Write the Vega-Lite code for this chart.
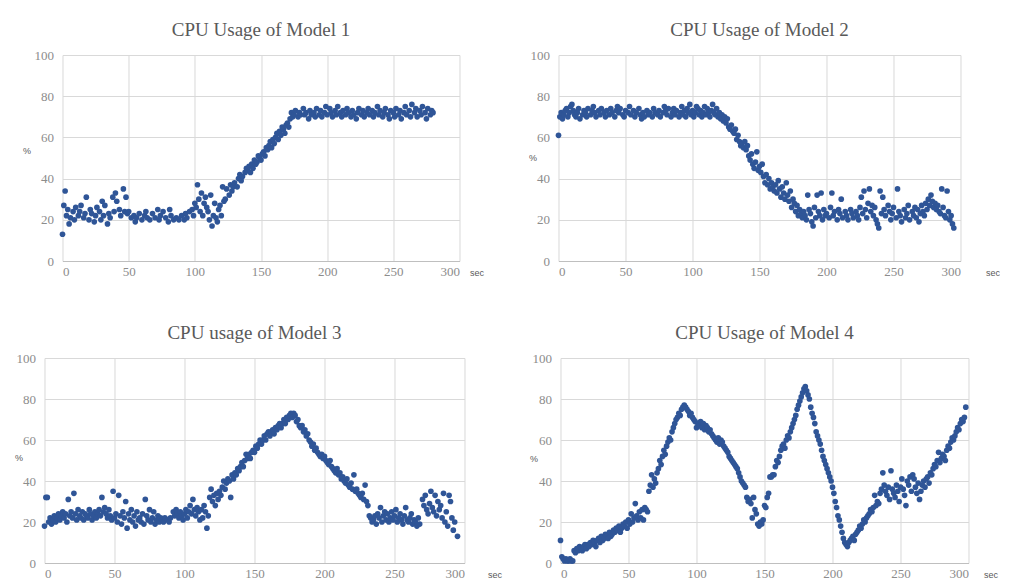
{
"$schema": "https://vega.github.io/schema/vega-lite/v6.json",
"background": "white",
"padding": {"left": 14, "top": 21, "right": 0, "bottom": 0},
"config": {
  "view": {"stroke": null},
  "font": "Liberation Serif",
  "title": {"font": "Liberation Serif", "fontSize": 19, "fontWeight": "normal", "color": "#595959", "offset": 9},
  "axis": {"gridColor": "#d9d9d9", "gridWidth": 1, "ticks": false, "labelFont": "Liberation Serif", "labelFontSize": 13, "labelColor": "#8c8c8c", "titleFont": "Liberation Sans", "titleFontSize": 9, "titleFontWeight": "normal", "titleColor": "#595959", "titleAngle": 0, "titleAlign": "center", "titleBaseline": "middle"},
  "axisX": {"domainColor": "#bfbfbf", "labelPadding": 4},
  "axisY": {"domain": false, "labelPadding": 9},
  "circle": {"size": 32, "color": "#2f5597", "opacity": 1}
},
"datasets": {
"m1": [{"t":0,"v":13},{"t":1,"v":27},{"t":2,"v":34},{"t":3,"v":22},{"t":4,"v":25},{"t":5,"v":18},{"t":6,"v":21},{"t":8,"v":24},{"t":9,"v":20},{"t":10,"v":26},{"t":12,"v":22},{"t":13,"v":24},{"t":14,"v":27},{"t":16,"v":21},{"t":17,"v":23},{"t":18,"v":31},{"t":20,"v":20},{"t":21,"v":25},{"t":22,"v":23},{"t":24,"v":19},{"t":25,"v":22},{"t":26,"v":26},{"t":28,"v":24},{"t":29,"v":20},{"t":30,"v":29},{"t":31,"v":22},{"t":32,"v":27},{"t":34,"v":18},{"t":35,"v":23},{"t":36,"v":21},{"t":38,"v":31},{"t":39,"v":24},{"t":40,"v":33},{"t":41,"v":29},{"t":43,"v":25},{"t":44,"v":22},{"t":46,"v":35},{"t":47,"v":24},{"t":48,"v":31},{"t":49,"v":23},{"t":50,"v":24},{"t":52,"v":21},{"t":54,"v":22},{"t":55,"v":19},{"t":56,"v":21},{"t":58,"v":23},{"t":60,"v":20},{"t":62,"v":22},{"t":63,"v":24},{"t":64,"v":21},{"t":66,"v":20},{"t":68,"v":23},{"t":70,"v":21},{"t":72,"v":25},{"t":73,"v":20},{"t":74,"v":22},{"t":76,"v":24},{"t":78,"v":21},{"t":80,"v":19},{"t":81,"v":25},{"t":82,"v":22},{"t":84,"v":20},{"t":86,"v":21},{"t":88,"v":20},{"t":90,"v":22},{"t":92,"v":20},{"t":93,"v":23},{"t":94,"v":21},{"t":96,"v":24},{"t":98,"v":25},{"t":99,"v":22},{"t":100,"v":28},{"t":101,"v":26},{"t":102,"v":37},{"t":103,"v":30},{"t":104,"v":24},{"t":105,"v":33},{"t":106,"v":22},{"t":107,"v":28},{"t":108,"v":31},{"t":109,"v":26},{"t":110,"v":24},{"t":111,"v":20},{"t":112,"v":32},{"t":113,"v":17},{"t":114,"v":22},{"t":115,"v":28},{"t":116,"v":21},{"t":117,"v":19},{"t":118,"v":25},{"t":119,"v":27},{"t":120,"v":22},{"t":121,"v":36},{"t":122,"v":29},{"t":123,"v":30},{"t":124,"v":35},{"t":126,"v":32},{"t":127,"v":37},{"t":128,"v":34},{"t":129,"v":36},{"t":130,"v":38},{"t":132,"v":36},{"t":133,"v":40},{"t":134,"v":42},{"t":135,"v":39},{"t":136,"v":41},{"t":138,"v":43},{"t":139,"v":45},{"t":140,"v":44},{"t":141,"v":46},{"t":142,"v":43},{"t":143,"v":47},{"t":144,"v":45},{"t":145,"v":49},{"t":146,"v":47},{"t":147,"v":48},{"t":148,"v":51},{"t":149,"v":50},{"t":150,"v":49},{"t":151,"v":52},{"t":152,"v":53},{"t":153,"v":51},{"t":154,"v":55},{"t":155,"v":54},{"t":156,"v":56},{"t":157,"v":58},{"t":158,"v":55},{"t":159,"v":59},{"t":160,"v":57},{"t":161,"v":60},{"t":162,"v":62},{"t":163,"v":59},{"t":164,"v":63},{"t":165,"v":61},{"t":166,"v":65},{"t":167,"v":64},{"t":168,"v":62},{"t":169,"v":66},{"t":170,"v":67},{"t":171,"v":65},{"t":172,"v":69},{"t":173,"v":72},{"t":174,"v":70},{"t":175,"v":71},{"t":176,"v":73},{"t":178,"v":70},{"t":179,"v":72},{"t":180,"v":71},{"t":182,"v":74},{"t":183,"v":71},{"t":184,"v":72},{"t":186,"v":69},{"t":187,"v":73},{"t":188,"v":71},{"t":190,"v":72},{"t":191,"v":70},{"t":192,"v":74},{"t":194,"v":71},{"t":195,"v":73},{"t":196,"v":70},{"t":198,"v":72},{"t":199,"v":75},{"t":200,"v":71},{"t":202,"v":74},{"t":203,"v":72},{"t":204,"v":70},{"t":206,"v":73},{"t":207,"v":71},{"t":208,"v":75},{"t":210,"v":72},{"t":211,"v":70},{"t":212,"v":73},{"t":214,"v":71},{"t":215,"v":74},{"t":216,"v":72},{"t":218,"v":70},{"t":219,"v":73},{"t":220,"v":71},{"t":222,"v":69},{"t":223,"v":72},{"t":224,"v":74},{"t":226,"v":71},{"t":227,"v":73},{"t":228,"v":70},{"t":230,"v":72},{"t":231,"v":74},{"t":232,"v":71},{"t":234,"v":73},{"t":235,"v":70},{"t":236,"v":72},{"t":238,"v":75},{"t":239,"v":71},{"t":240,"v":73},{"t":242,"v":70},{"t":243,"v":72},{"t":244,"v":74},{"t":246,"v":71},{"t":247,"v":69},{"t":248,"v":73},{"t":250,"v":72},{"t":251,"v":70},{"t":252,"v":74},{"t":254,"v":71},{"t":255,"v":73},{"t":256,"v":69},{"t":258,"v":72},{"t":259,"v":75},{"t":260,"v":71},{"t":262,"v":73},{"t":263,"v":70},{"t":264,"v":76},{"t":266,"v":72},{"t":267,"v":74},{"t":268,"v":70},{"t":270,"v":73},{"t":271,"v":71},{"t":272,"v":75},{"t":274,"v":72},{"t":275,"v":69},{"t":276,"v":74},{"t":278,"v":71},{"t":279,"v":73},{"t":280,"v":72}],
"m2": [{"t":0,"v":61},{"t":1,"v":70},{"t":2,"v":72},{"t":3,"v":69},{"t":4,"v":71},{"t":5,"v":73},{"t":6,"v":74},{"t":7,"v":70},{"t":8,"v":72},{"t":9,"v":75},{"t":10,"v":76},{"t":11,"v":73},{"t":12,"v":71},{"t":13,"v":70},{"t":14,"v":72},{"t":15,"v":74},{"t":16,"v":69},{"t":18,"v":71},{"t":19,"v":73},{"t":20,"v":72},{"t":21,"v":70},{"t":22,"v":74},{"t":24,"v":71},{"t":25,"v":73},{"t":26,"v":75},{"t":27,"v":72},{"t":28,"v":70},{"t":30,"v":73},{"t":31,"v":71},{"t":32,"v":74},{"t":34,"v":72},{"t":35,"v":70},{"t":36,"v":73},{"t":38,"v":71},{"t":39,"v":74},{"t":40,"v":72},{"t":42,"v":70},{"t":43,"v":73},{"t":44,"v":75},{"t":45,"v":72},{"t":46,"v":74},{"t":48,"v":71},{"t":49,"v":70},{"t":50,"v":73},{"t":52,"v":72},{"t":53,"v":75},{"t":54,"v":71},{"t":56,"v":73},{"t":57,"v":70},{"t":58,"v":72},{"t":60,"v":74},{"t":61,"v":71},{"t":62,"v":69},{"t":63,"v":72},{"t":64,"v":70},{"t":66,"v":73},{"t":67,"v":71},{"t":68,"v":72},{"t":70,"v":70},{"t":71,"v":74},{"t":72,"v":72},{"t":74,"v":71},{"t":75,"v":73},{"t":76,"v":70},{"t":78,"v":72},{"t":79,"v":75},{"t":80,"v":73},{"t":81,"v":71},{"t":82,"v":74},{"t":84,"v":70},{"t":85,"v":72},{"t":86,"v":74},{"t":87,"v":71},{"t":88,"v":73},{"t":90,"v":70},{"t":91,"v":72},{"t":92,"v":75},{"t":93,"v":71},{"t":94,"v":73},{"t":95,"v":70},{"t":96,"v":74},{"t":97,"v":72},{"t":98,"v":76},{"t":99,"v":71},{"t":100,"v":73},{"t":101,"v":70},{"t":102,"v":72},{"t":103,"v":75},{"t":104,"v":74},{"t":105,"v":71},{"t":106,"v":73},{"t":107,"v":70},{"t":108,"v":72},{"t":109,"v":75},{"t":110,"v":71},{"t":111,"v":74},{"t":112,"v":72},{"t":113,"v":70},{"t":114,"v":73},{"t":115,"v":76},{"t":116,"v":72},{"t":117,"v":71},{"t":118,"v":74},{"t":119,"v":70},{"t":120,"v":72},{"t":121,"v":69},{"t":122,"v":71},{"t":123,"v":68},{"t":124,"v":70},{"t":125,"v":67},{"t":126,"v":69},{"t":127,"v":65},{"t":128,"v":64},{"t":129,"v":66},{"t":130,"v":63},{"t":131,"v":62},{"t":132,"v":64},{"t":133,"v":59},{"t":134,"v":61},{"t":135,"v":58},{"t":136,"v":56},{"t":137,"v":57},{"t":138,"v":55},{"t":139,"v":58},{"t":140,"v":54},{"t":141,"v":56},{"t":142,"v":51},{"t":143,"v":49},{"t":144,"v":52},{"t":145,"v":47},{"t":146,"v":45},{"t":147,"v":48},{"t":148,"v":53},{"t":149,"v":44},{"t":150,"v":46},{"t":151,"v":43},{"t":152,"v":47},{"t":153,"v":41},{"t":154,"v":38},{"t":155,"v":42},{"t":156,"v":37},{"t":157,"v":40},{"t":158,"v":35},{"t":159,"v":38},{"t":160,"v":36},{"t":161,"v":34},{"t":162,"v":37},{"t":163,"v":33},{"t":164,"v":39},{"t":165,"v":35},{"t":166,"v":31},{"t":167,"v":36},{"t":168,"v":33},{"t":169,"v":30},{"t":170,"v":38},{"t":171,"v":32},{"t":172,"v":29},{"t":173,"v":34},{"t":174,"v":26},{"t":175,"v":30},{"t":176,"v":28},{"t":177,"v":24},{"t":178,"v":27},{"t":179,"v":22},{"t":180,"v":25},{"t":181,"v":23},{"t":182,"v":21},{"t":183,"v":24},{"t":184,"v":22},{"t":185,"v":20},{"t":186,"v":32},{"t":187,"v":25},{"t":188,"v":23},{"t":189,"v":19},{"t":190,"v":17},{"t":191,"v":26},{"t":192,"v":21},{"t":193,"v":32},{"t":194,"v":24},{"t":195,"v":22},{"t":196,"v":33},{"t":197,"v":20},{"t":198,"v":25},{"t":199,"v":22},{"t":200,"v":23},{"t":202,"v":21},{"t":203,"v":26},{"t":204,"v":33},{"t":205,"v":22},{"t":206,"v":24},{"t":208,"v":20},{"t":209,"v":25},{"t":210,"v":23},{"t":211,"v":30},{"t":212,"v":21},{"t":214,"v":24},{"t":215,"v":22},{"t":216,"v":20},{"t":218,"v":25},{"t":219,"v":23},{"t":220,"v":21},{"t":222,"v":24},{"t":223,"v":22},{"t":224,"v":20},{"t":225,"v":26},{"t":226,"v":31},{"t":227,"v":23},{"t":228,"v":34},{"t":229,"v":25},{"t":230,"v":21},{"t":231,"v":28},{"t":232,"v":35},{"t":233,"v":24},{"t":234,"v":27},{"t":235,"v":22},{"t":236,"v":26},{"t":237,"v":20},{"t":238,"v":18},{"t":239,"v":16},{"t":240,"v":34},{"t":241,"v":23},{"t":242,"v":31},{"t":243,"v":25},{"t":244,"v":22},{"t":246,"v":27},{"t":247,"v":24},{"t":248,"v":20},{"t":249,"v":23},{"t":250,"v":26},{"t":252,"v":21},{"t":253,"v":35},{"t":254,"v":24},{"t":255,"v":22},{"t":256,"v":19},{"t":258,"v":25},{"t":259,"v":21},{"t":260,"v":23},{"t":261,"v":27},{"t":262,"v":20},{"t":264,"v":24},{"t":265,"v":22},{"t":266,"v":26},{"t":267,"v":21},{"t":268,"v":25},{"t":269,"v":19},{"t":270,"v":23},{"t":271,"v":27},{"t":272,"v":24},{"t":273,"v":22},{"t":274,"v":28},{"t":275,"v":25},{"t":276,"v":30},{"t":277,"v":27},{"t":278,"v":32},{"t":279,"v":29},{"t":280,"v":26},{"t":281,"v":28},{"t":282,"v":25},{"t":283,"v":27},{"t":284,"v":24},{"t":285,"v":23},{"t":286,"v":35},{"t":287,"v":26},{"t":288,"v":22},{"t":289,"v":21},{"t":290,"v":34},{"t":291,"v":24},{"t":292,"v":20},{"t":293,"v":22},{"t":294,"v":18},{"t":295,"v":16}],
"m3": [{"t":0,"v":18},{"t":1,"v":32},{"t":2,"v":32},{"t":3,"v":20},{"t":4,"v":22},{"t":5,"v":19},{"t":6,"v":21},{"t":7,"v":23},{"t":8,"v":20},{"t":9,"v":22},{"t":10,"v":24},{"t":11,"v":21},{"t":12,"v":23},{"t":13,"v":25},{"t":14,"v":22},{"t":15,"v":24},{"t":16,"v":20},{"t":17,"v":31},{"t":18,"v":23},{"t":19,"v":25},{"t":20,"v":22},{"t":21,"v":34},{"t":22,"v":24},{"t":23,"v":21},{"t":24,"v":26},{"t":25,"v":23},{"t":26,"v":22},{"t":27,"v":25},{"t":28,"v":21},{"t":29,"v":24},{"t":30,"v":23},{"t":31,"v":22},{"t":32,"v":26},{"t":33,"v":24},{"t":34,"v":21},{"t":35,"v":23},{"t":36,"v":25},{"t":37,"v":22},{"t":38,"v":24},{"t":39,"v":26},{"t":40,"v":23},{"t":41,"v":32},{"t":42,"v":25},{"t":43,"v":27},{"t":44,"v":24},{"t":45,"v":22},{"t":46,"v":26},{"t":47,"v":23},{"t":48,"v":21},{"t":49,"v":35},{"t":50,"v":22},{"t":51,"v":24},{"t":52,"v":20},{"t":53,"v":33},{"t":54,"v":23},{"t":55,"v":19},{"t":56,"v":25},{"t":57,"v":22},{"t":58,"v":30},{"t":59,"v":17},{"t":60,"v":24},{"t":61,"v":21},{"t":62,"v":26},{"t":63,"v":20},{"t":64,"v":23},{"t":65,"v":18},{"t":66,"v":25},{"t":67,"v":21},{"t":68,"v":22},{"t":69,"v":20},{"t":70,"v":24},{"t":71,"v":19},{"t":72,"v":31},{"t":73,"v":23},{"t":74,"v":21},{"t":75,"v":26},{"t":76,"v":20},{"t":77,"v":22},{"t":78,"v":25},{"t":79,"v":19},{"t":80,"v":21},{"t":81,"v":23},{"t":82,"v":20},{"t":83,"v":22},{"t":84,"v":21},{"t":85,"v":20},{"t":86,"v":22},{"t":88,"v":21},{"t":89,"v":20},{"t":90,"v":22},{"t":92,"v":25},{"t":93,"v":23},{"t":94,"v":26},{"t":95,"v":24},{"t":96,"v":22},{"t":97,"v":25},{"t":98,"v":23},{"t":99,"v":21},{"t":100,"v":24},{"t":101,"v":26},{"t":102,"v":22},{"t":103,"v":25},{"t":104,"v":28},{"t":105,"v":24},{"t":106,"v":31},{"t":107,"v":26},{"t":108,"v":23},{"t":109,"v":27},{"t":110,"v":25},{"t":111,"v":21},{"t":112,"v":26},{"t":113,"v":22},{"t":114,"v":28},{"t":115,"v":25},{"t":116,"v":17},{"t":117,"v":23},{"t":118,"v":32},{"t":119,"v":36},{"t":120,"v":30},{"t":121,"v":33},{"t":122,"v":28},{"t":123,"v":34},{"t":124,"v":31},{"t":125,"v":35},{"t":126,"v":33},{"t":127,"v":37},{"t":128,"v":40},{"t":129,"v":36},{"t":130,"v":39},{"t":131,"v":41},{"t":132,"v":40},{"t":133,"v":32},{"t":134,"v":43},{"t":135,"v":41},{"t":136,"v":44},{"t":137,"v":43},{"t":138,"v":46},{"t":139,"v":45},{"t":140,"v":47},{"t":141,"v":49},{"t":142,"v":47},{"t":143,"v":50},{"t":144,"v":53},{"t":145,"v":51},{"t":146,"v":53},{"t":147,"v":51},{"t":148,"v":54},{"t":149,"v":55},{"t":150,"v":54},{"t":151,"v":57},{"t":152,"v":56},{"t":153,"v":58},{"t":154,"v":60},{"t":155,"v":58},{"t":156,"v":60},{"t":157,"v":62},{"t":158,"v":60},{"t":159,"v":63},{"t":160,"v":64},{"t":161,"v":62},{"t":162,"v":64},{"t":163,"v":65},{"t":164,"v":63},{"t":165,"v":66},{"t":166,"v":65},{"t":167,"v":67},{"t":168,"v":68},{"t":169,"v":66},{"t":170,"v":68},{"t":171,"v":70},{"t":172,"v":68},{"t":173,"v":71},{"t":174,"v":70},{"t":175,"v":72},{"t":176,"v":73},{"t":177,"v":71},{"t":178,"v":73},{"t":179,"v":72},{"t":180,"v":69},{"t":181,"v":70},{"t":182,"v":67},{"t":183,"v":66},{"t":184,"v":67},{"t":185,"v":64},{"t":186,"v":65},{"t":187,"v":62},{"t":188,"v":63},{"t":189,"v":60},{"t":190,"v":59},{"t":191,"v":57},{"t":192,"v":58},{"t":193,"v":55},{"t":194,"v":56},{"t":195,"v":54},{"t":196,"v":53},{"t":197,"v":52},{"t":198,"v":53},{"t":199,"v":51},{"t":200,"v":52},{"t":201,"v":50},{"t":202,"v":49},{"t":203,"v":48},{"t":204,"v":50},{"t":205,"v":47},{"t":206,"v":46},{"t":207,"v":45},{"t":208,"v":44},{"t":209,"v":46},{"t":210,"v":43},{"t":211,"v":44},{"t":212,"v":41},{"t":213,"v":42},{"t":214,"v":40},{"t":215,"v":39},{"t":216,"v":41},{"t":217,"v":38},{"t":218,"v":37},{"t":219,"v":39},{"t":220,"v":36},{"t":221,"v":43},{"t":222,"v":35},{"t":223,"v":36},{"t":224,"v":34},{"t":225,"v":33},{"t":226,"v":32},{"t":227,"v":34},{"t":228,"v":31},{"t":229,"v":38},{"t":230,"v":30},{"t":231,"v":28},{"t":232,"v":23},{"t":233,"v":22},{"t":234,"v":20},{"t":235,"v":21},{"t":236,"v":23},{"t":237,"v":19},{"t":238,"v":24},{"t":239,"v":22},{"t":240,"v":27},{"t":241,"v":20},{"t":242,"v":23},{"t":243,"v":25},{"t":244,"v":21},{"t":245,"v":24},{"t":246,"v":20},{"t":247,"v":22},{"t":248,"v":25},{"t":249,"v":21},{"t":250,"v":23},{"t":251,"v":26},{"t":252,"v":20},{"t":253,"v":22},{"t":254,"v":24},{"t":255,"v":21},{"t":256,"v":19},{"t":257,"v":23},{"t":258,"v":27},{"t":259,"v":21},{"t":260,"v":20},{"t":261,"v":22},{"t":262,"v":24},{"t":263,"v":19},{"t":264,"v":21},{"t":265,"v":20},{"t":266,"v":18},{"t":267,"v":22},{"t":268,"v":19},{"t":270,"v":31},{"t":271,"v":28},{"t":272,"v":33},{"t":273,"v":26},{"t":274,"v":24},{"t":275,"v":29},{"t":276,"v":35},{"t":277,"v":27},{"t":278,"v":25},{"t":279,"v":33},{"t":280,"v":23},{"t":281,"v":30},{"t":282,"v":26},{"t":283,"v":28},{"t":284,"v":22},{"t":285,"v":34},{"t":286,"v":20},{"t":287,"v":25},{"t":288,"v":18},{"t":289,"v":33},{"t":290,"v":30},{"t":291,"v":22},{"t":292,"v":16},{"t":293,"v":20},{"t":295,"v":13}],
"m4": [{"t":0,"v":11},{"t":1,"v":3},{"t":2,"v":2},{"t":3,"v":1},{"t":4,"v":2},{"t":5,"v":1},{"t":6,"v":1},{"t":7,"v":2},{"t":8,"v":1},{"t":9,"v":1},{"t":10,"v":6},{"t":11,"v":5},{"t":12,"v":7},{"t":13,"v":6},{"t":14,"v":8},{"t":15,"v":7},{"t":16,"v":6},{"t":17,"v":8},{"t":18,"v":9},{"t":19,"v":7},{"t":20,"v":9},{"t":21,"v":8},{"t":22,"v":10},{"t":23,"v":9},{"t":24,"v":11},{"t":25,"v":10},{"t":26,"v":8},{"t":27,"v":11},{"t":28,"v":12},{"t":29,"v":10},{"t":30,"v":13},{"t":31,"v":11},{"t":32,"v":12},{"t":33,"v":14},{"t":34,"v":13},{"t":35,"v":12},{"t":36,"v":15},{"t":37,"v":13},{"t":38,"v":14},{"t":39,"v":16},{"t":40,"v":15},{"t":41,"v":17},{"t":42,"v":16},{"t":43,"v":18},{"t":44,"v":15},{"t":45,"v":17},{"t":46,"v":19},{"t":47,"v":18},{"t":48,"v":20},{"t":49,"v":17},{"t":50,"v":21},{"t":51,"v":19},{"t":52,"v":24},{"t":53,"v":20},{"t":54,"v":22},{"t":55,"v":29},{"t":56,"v":23},{"t":57,"v":21},{"t":58,"v":25},{"t":59,"v":22},{"t":60,"v":26},{"t":61,"v":21},{"t":62,"v":27},{"t":63,"v":26},{"t":64,"v":25},{"t":65,"v":35},{"t":66,"v":38},{"t":67,"v":43},{"t":68,"v":37},{"t":69,"v":41},{"t":70,"v":39},{"t":71,"v":44},{"t":72,"v":46},{"t":73,"v":50},{"t":74,"v":48},{"t":75,"v":52},{"t":76,"v":55},{"t":77,"v":53},{"t":78,"v":57},{"t":79,"v":59},{"t":80,"v":61},{"t":81,"v":60},{"t":82,"v":64},{"t":83,"v":66},{"t":84,"v":68},{"t":85,"v":70},{"t":86,"v":71},{"t":87,"v":73},{"t":88,"v":72},{"t":89,"v":75},{"t":90,"v":76},{"t":91,"v":77},{"t":92,"v":76},{"t":93,"v":75},{"t":94,"v":74},{"t":95,"v":72},{"t":96,"v":73},{"t":97,"v":71},{"t":98,"v":70},{"t":99,"v":69},{"t":100,"v":66},{"t":101,"v":68},{"t":102,"v":67},{"t":103,"v":69},{"t":104,"v":66},{"t":105,"v":68},{"t":106,"v":65},{"t":107,"v":67},{"t":108,"v":66},{"t":109,"v":64},{"t":110,"v":65},{"t":111,"v":63},{"t":112,"v":62},{"t":113,"v":61},{"t":114,"v":60},{"t":115,"v":59},{"t":116,"v":61},{"t":117,"v":58},{"t":118,"v":60},{"t":119,"v":59},{"t":120,"v":57},{"t":121,"v":56},{"t":122,"v":55},{"t":123,"v":54},{"t":124,"v":52},{"t":125,"v":51},{"t":126,"v":50},{"t":127,"v":49},{"t":128,"v":48},{"t":129,"v":47},{"t":130,"v":46},{"t":131,"v":44},{"t":132,"v":42},{"t":133,"v":40},{"t":134,"v":39},{"t":135,"v":38},{"t":136,"v":37},{"t":137,"v":32},{"t":138,"v":30},{"t":139,"v":31},{"t":140,"v":29},{"t":141,"v":22},{"t":142,"v":32},{"t":143,"v":26},{"t":144,"v":24},{"t":145,"v":19},{"t":146,"v":18},{"t":147,"v":20},{"t":148,"v":19},{"t":149,"v":21},{"t":150,"v":28},{"t":151,"v":27},{"t":152,"v":32},{"t":153,"v":34},{"t":154,"v":42},{"t":155,"v":42},{"t":156,"v":43},{"t":157,"v":43},{"t":158,"v":47},{"t":159,"v":50},{"t":160,"v":49},{"t":161,"v":52},{"t":162,"v":55},{"t":163,"v":57},{"t":164,"v":58},{"t":165,"v":56},{"t":166,"v":60},{"t":167,"v":62},{"t":168,"v":61},{"t":169,"v":64},{"t":170,"v":66},{"t":171,"v":68},{"t":172,"v":70},{"t":173,"v":72},{"t":174,"v":75},{"t":175,"v":77},{"t":176,"v":79},{"t":177,"v":81},{"t":178,"v":83},{"t":179,"v":85},{"t":180,"v":86},{"t":181,"v":84},{"t":182,"v":82},{"t":183,"v":80},{"t":184,"v":76},{"t":185,"v":73},{"t":186,"v":71},{"t":187,"v":68},{"t":188,"v":64},{"t":189,"v":62},{"t":190,"v":60},{"t":191,"v":58},{"t":192,"v":55},{"t":193,"v":52},{"t":194,"v":50},{"t":195,"v":48},{"t":196,"v":46},{"t":197,"v":44},{"t":198,"v":42},{"t":199,"v":40},{"t":200,"v":37},{"t":201,"v":34},{"t":202,"v":30},{"t":203,"v":27},{"t":204,"v":23},{"t":205,"v":21},{"t":206,"v":18},{"t":207,"v":15},{"t":208,"v":12},{"t":209,"v":10},{"t":210,"v":9},{"t":211,"v":8},{"t":212,"v":10},{"t":213,"v":11},{"t":214,"v":12},{"t":215,"v":13},{"t":216,"v":11},{"t":217,"v":14},{"t":218,"v":15},{"t":219,"v":16},{"t":220,"v":18},{"t":221,"v":17},{"t":222,"v":19},{"t":223,"v":21},{"t":224,"v":20},{"t":225,"v":22},{"t":226,"v":23},{"t":227,"v":24},{"t":228,"v":26},{"t":229,"v":25},{"t":230,"v":27},{"t":231,"v":33},{"t":232,"v":28},{"t":233,"v":30},{"t":234,"v":29},{"t":235,"v":34},{"t":236,"v":36},{"t":237,"v":44},{"t":238,"v":38},{"t":239,"v":35},{"t":240,"v":33},{"t":241,"v":37},{"t":242,"v":31},{"t":243,"v":45},{"t":244,"v":36},{"t":245,"v":34},{"t":246,"v":32},{"t":247,"v":38},{"t":248,"v":35},{"t":249,"v":30},{"t":250,"v":37},{"t":251,"v":41},{"t":252,"v":36},{"t":253,"v":33},{"t":254,"v":28},{"t":255,"v":40},{"t":256,"v":38},{"t":257,"v":42},{"t":258,"v":35},{"t":259,"v":43},{"t":260,"v":41},{"t":261,"v":37},{"t":262,"v":34},{"t":263,"v":39},{"t":264,"v":31},{"t":265,"v":35},{"t":266,"v":38},{"t":267,"v":40},{"t":268,"v":37},{"t":269,"v":41},{"t":270,"v":42},{"t":271,"v":39},{"t":272,"v":44},{"t":273,"v":43},{"t":274,"v":46},{"t":275,"v":48},{"t":276,"v":47},{"t":277,"v":50},{"t":278,"v":54},{"t":279,"v":49},{"t":280,"v":51},{"t":281,"v":53},{"t":282,"v":52},{"t":283,"v":50},{"t":284,"v":55},{"t":285,"v":57},{"t":286,"v":56},{"t":287,"v":59},{"t":288,"v":61},{"t":289,"v":60},{"t":290,"v":62},{"t":291,"v":64},{"t":292,"v":66},{"t":293,"v":65},{"t":294,"v":68},{"t":295,"v":70},{"t":296,"v":69},{"t":297,"v":71},{"t":298,"v":76}]
},
"spacing": 26,
"hconcat": [
 {"vconcat": [
  {"width": 397, "height": 206, "title": "CPU Usage of Model 1", "data": {"name": "m1"}, "mark": "circle",
   "encoding": {
    "x": {"field": "t", "type": "quantitative", "scale": {"domain": [0, 300], "nice": false}, "axis": {"values": [0,50,100,150,200,250,300], "title": "sec", "titleX": 414, "titleY": 11}},
    "y": {"field": "v", "type": "quantitative", "scale": {"domain": [0, 100], "nice": false}, "axis": {"values": [0,20,40,60,80,100], "title": "%", "titleX": -36, "titleY": 95}}}},
  {"width": 420, "height": 205, "title": "CPU usage of Model 3", "data": {"name": "m3"}, "mark": "circle",
   "encoding": {
    "x": {"field": "t", "type": "quantitative", "scale": {"domain": [0, 300], "nice": false}, "axis": {"values": [0,50,100,150,200,250,300], "title": "sec", "titleX": 450, "titleY": 11}},
    "y": {"field": "v", "type": "quantitative", "scale": {"domain": [0, 100], "nice": false}, "axis": {"values": [0,20,40,60,80,100], "title": "%", "titleX": -26, "titleY": 99}}}}
 ], "spacing": 46, "center": true},
 {"vconcat": [
  {"width": 402, "height": 206, "title": "CPU Usage of Model 2", "data": {"name": "m2"}, "mark": "circle",
   "encoding": {
    "x": {"field": "t", "type": "quantitative", "scale": {"domain": [0, 300], "nice": false}, "axis": {"values": [0,50,100,150,200,250,300], "title": "sec", "titleX": 434, "titleY": 11}},
    "y": {"field": "v", "type": "quantitative", "scale": {"domain": [0, 100], "nice": false}, "axis": {"values": [0,20,40,60,80,100], "title": "%", "titleX": -26, "titleY": 102}}}},
  {"width": 408, "height": 205, "title": "CPU Usage of Model 4", "data": {"name": "m4"}, "mark": "circle",
   "encoding": {
    "x": {"field": "t", "type": "quantitative", "scale": {"domain": [0, 300], "nice": false}, "axis": {"values": [0,50,100,150,200,250,300], "title": "sec", "titleX": 430, "titleY": 11}},
    "y": {"field": "v", "type": "quantitative", "scale": {"domain": [0, 100], "nice": false}, "axis": {"values": [0,20,40,60,80,100], "title": "%", "titleX": -27, "titleY": 100}}}}
 ], "spacing": 46, "center": true}
]
}
